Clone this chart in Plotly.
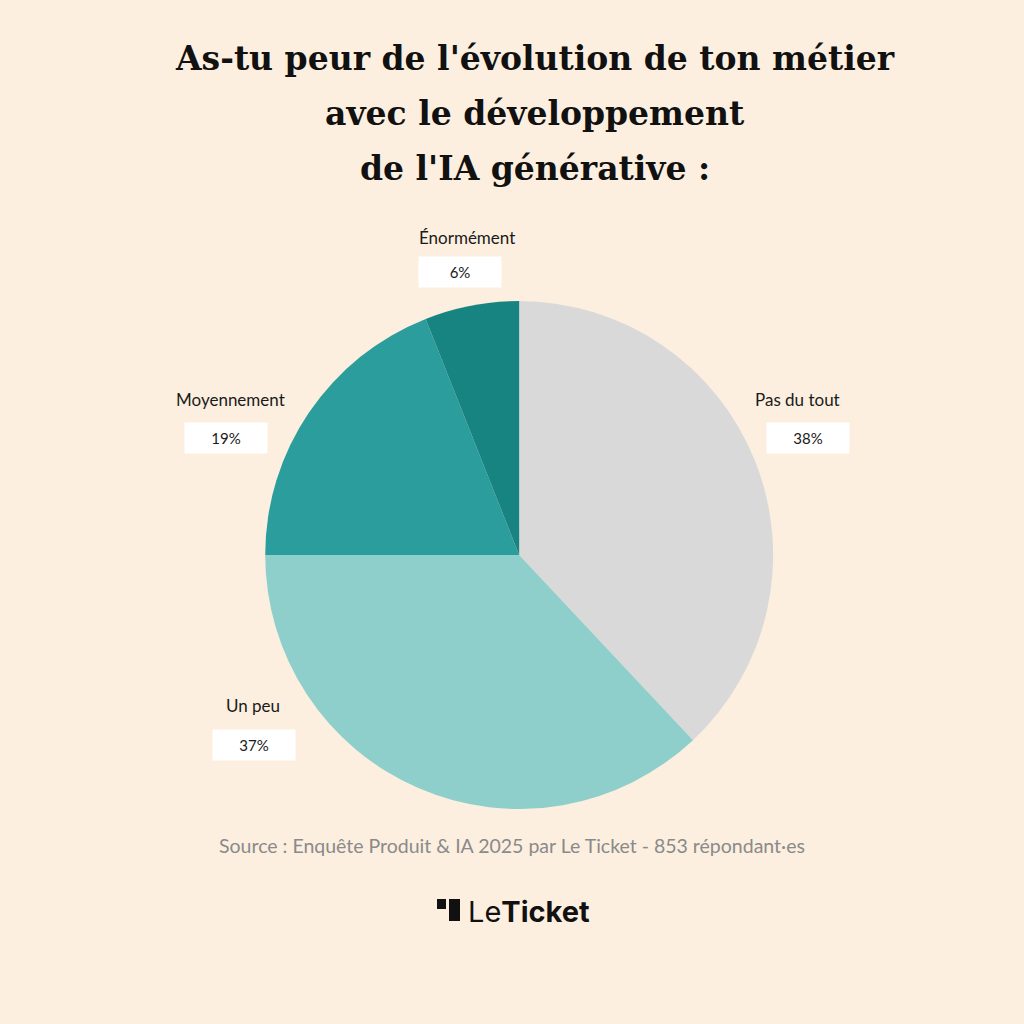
import plotly.graph_objects as go

labels = ["Pas du tout", "Un peu", "Moyennement", "Énormément"]
values = [38, 37, 19, 6]
colors = ["#d9d9d9", "#8ecfcb", "#2a9d9c", "#178481"]

title_lines = [
    "As-tu peur de l'évolution de ton métier",
    "avec le développement",
    "de l'IA générative :",
]

# label positions in pixels (name xy, box xy)
label_pos = {
    "Pas du tout": ((797, 399), (808, 438)),
    "Un peu": ((253, 705), (254, 745)),
    "Moyennement": ((230, 399), (226, 438)),
    "Énormément": ((467, 237), (460, 272)),
}

BG = "#fcefdf"
W = H = 1024


def px(x, y):
    return x / W, 1 - y / H


def text(fig, x, y, s, size, color="#1a1a1a", family="Lato", **kw):
    a, b = px(x, y)
    fig.add_annotation(x=a, y=b, xref="paper", yref="paper", text=s,
                       showarrow=False, xanchor=kw.pop("xanchor", "center"),
                       yanchor="middle", font=dict(family=family, size=size, color=color), **kw)


fig = go.Figure(go.Pie(
    labels=labels,
    values=values,
    sort=False,
    direction="clockwise",
    rotation=0,
    marker=dict(colors=colors, line=dict(width=0)),
    textinfo="none",
    hoverinfo="label+percent",
    domain=dict(x=[0.259, 0.755], y=[0.21, 0.706]),
    showlegend=False,
))

for lab, val in zip(labels, values):
    (nx, ny), (bx, by) = label_pos[lab]
    text(fig, nx, ny, lab, 17)
    text(fig, bx, by, f"{val}%", 15, bgcolor="white", width=80, height=28)

for i, line in enumerate(title_lines):
    text(fig, 535, 58 + 55 * i, f"<b>{line}</b>", 33, color="#111111", family="DejaVu Serif")

text(fig, 512, 845, "Source : Enquête Produit & IA 2025 par Le Ticket - 853 répondant·es",
     19.5, color="#8a8a8a")
text(fig, 466, 911, "Le<b>Ticket</b>", 29, color="#111111", family="Inter", xanchor="left")

# logo marks
for x0, y0, x1, y1 in [(437, 899, 446, 909), (449, 899, 460, 921)]:
    a0, b1 = px(x0, y0)
    a1, b0 = px(x1, y1)
    fig.add_shape(type="rect", xref="paper", yref="paper", x0=a0, x1=a1, y0=b0, y1=b1,
                  fillcolor="#111111", line=dict(width=0))

fig.update_layout(
    width=W, height=H,
    margin=dict(l=0, r=0, t=0, b=0),
    paper_bgcolor=BG, plot_bgcolor=BG,
)

fig.write_html("out.html", config={"displayModeBar": False},
               post_script="document.body.style.margin='0';")
